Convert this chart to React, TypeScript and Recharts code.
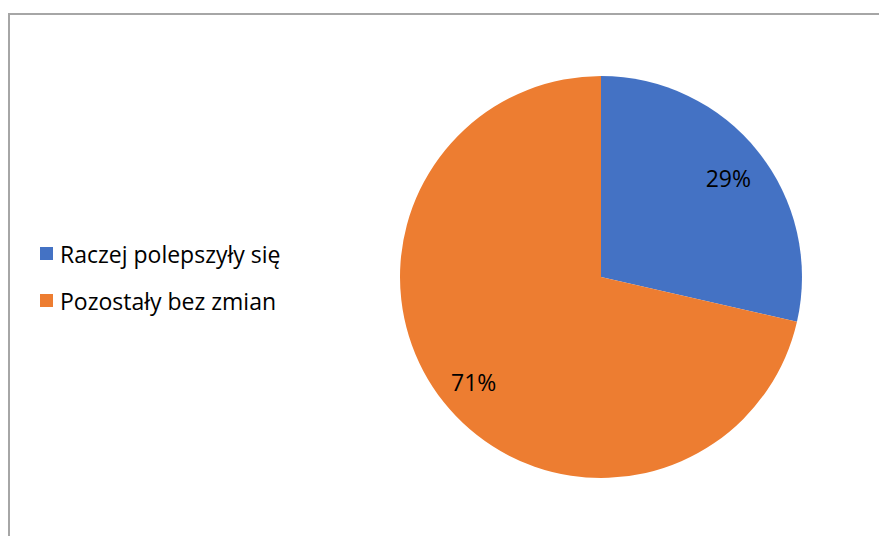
import { PieChart, Pie, Cell, Legend } from 'recharts';

const categories = ['Raczej polepszyły się', 'Pozostały bez zmian'];
const values = [2, 5];
const colors = ['#4472C4', '#ED7D31'];

const chartData = categories.map((name, i) => ({ name, value: values[i], color: colors[i] }));
const total = values.reduce((a, b) => a + b, 0);

const RADIAN = Math.PI / 180;
const FONT = '"Open Sans", Lato, sans-serif';

const renderLabel = (props: any) => {
  const { cx, cy, midAngle, outerRadius, value } = props;
  const r = outerRadius * 0.81;
  const x = cx + r * Math.cos(-midAngle * RADIAN);
  const y = cy + r * Math.sin(-midAngle * RADIAN) + 3;
  return (
    <text x={x} y={y} fill='#000' textAnchor='middle' dominantBaseline='central' fontSize={23} fontFamily={FONT}>
      {`${Math.round((value / total) * 100)}%`}
    </text>
  );
};

const renderLegend = () => (
  <div style={{ fontFamily: FONT, fontSize: 23, color: '#000' }}>
    {chartData.map(item => (
      <div key={item.name} style={{ display: 'flex', alignItems: 'center', height: 47 }}>
        <span style={{ width: 13, height: 13, background: item.color, marginRight: 7, display: 'inline-block' }} />
        <span>{item.name}</span>
      </div>
    ))}
  </div>
);

export default function App() {
  return (
    <div style={{ position: 'relative', width: 879, height: 528, overflow: 'hidden', background: '#fff' }}>
      <div
        style={{
          position: 'absolute',
          left: 0,
          top: 5,
          width: 879,
          height: 600,
          borderTop: '2px solid #a6a6a6',
          borderLeft: '2px solid #a6a6a6',
          boxSizing: 'border-box',
        }}
      />
      <PieChart
        width={879}
        height={528}
        margin={{ top: 0, right: 0, bottom: 0, left: 0 }}
        style={{ position: 'absolute', left: 0, top: 0 }}
      >
        <Pie
          data={chartData}
          dataKey='value'
          nameKey='name'
          cx={593}
          cy={269}
          outerRadius={201}
          startAngle={90}
          endAngle={-270}
          stroke='none'
          label={renderLabel}
          labelLine={false}
          isAnimationActive={false}
        >
          {chartData.map((entry, index) => (
            <Cell key={`cell-${index}`} fill={entry.color} />
          ))}
        </Pie>
        <Legend
          content={renderLegend}
          layout='vertical'
          wrapperStyle={{ position: 'absolute', left: 32, top: 222, width: 340 }}
        />
      </PieChart>
    </div>
  );
}
